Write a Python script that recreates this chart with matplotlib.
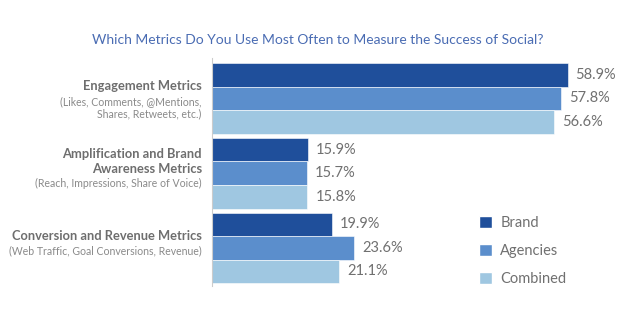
import numpy as np
import matplotlib.pyplot as plt
import matplotlib as mpl
from matplotlib.patches import Patch

mpl.rcParams.update({'font.family': ['Lato', 'DejaVu Sans']})

categories = ['Engagement Metrics', 'Amplification and Brand\nAwareness Metrics', 'Conversion and Revenue Metrics']
subtitles = ['(Likes, Comments, @Mentions,\nShares, Retweets, etc.)',
             '(Reach, Impressions, Share of Voice)',
             '(Web Traffic, Goal Conversions, Revenue)']
series = ['Brand', 'Agencies', 'Combined']
brand = [58.9, 15.9, 19.9]
agencies = [57.8, 15.7, 23.6]
combined = [56.6, 15.8, 21.1]
colors = ['#1f4f9b', '#5b8ecc', '#9fc7e1']

fig = plt.figure(figsize=(6.4, 3.35), dpi=100)
ax = fig.add_axes([0.331, 0.146, 0.619, 0.681])

gap = 0.17
values = [brand, agencies, combined]
for j, vals in enumerate(values):
    for g, v in enumerate(vals):
        y = g * (3 + gap) + j
        ax.barh(y, v, height=1.0, color=colors[j], edgecolor='white', linewidth=0.4)
        ax.annotate('%.1f%%' % v, xy=(v, y), xytext=(8, 0), textcoords='offset pixels',
                    va='center', ha='left', fontsize=10.5, color='#707070')

# category labels: bold block centred a bit above the group, notes underneath
for g in range(3):
    yc = g * (3 + gap) + 1
    main = categories[g].split('\n')
    sub = subtitles[g].split('\n')
    top = -12 - (len(main) - 1) * 7.5
    pos = []
    for i in range(len(main)):
        pos.append(top + i * 15)
    last = pos[-1] + 15
    for i in range(len(sub)):
        pos.append(last + i * 12.5)
    lines = [(t, True) for t in main] + [(t, False) for t in sub]
    for (t, bold), p in zip(lines, pos):
        ax.annotate(t, xy=(0, yc), xytext=(-10, -p), textcoords='offset pixels',
                    ha='right', va='center',
                    fontsize=9.3 if bold else 7.6,
                    fontweight='bold' if bold else 'normal',
                    color='#6e6e6e' if bold else '#8a8a8a')

ax.set_xlim(0, 65.6)
ax.set_ylim(2 * (3 + gap) + 2 + 0.62, -0.72)
ax.set_xticks([])
ax.set_yticks([])
for s in ['top', 'right', 'bottom']:
    ax.spines[s].set_visible(False)
ax.spines['left'].set_color('#cccccc')
ax.spines['left'].set_linewidth(0.8)

handles = [Patch(facecolor=c, edgecolor='white') for c in colors]
leg = ax.legend(handles, series, loc='center left', bbox_to_anchor=(0.64, 0.155),
                frameon=False, handlelength=0.9, handleheight=0.9, handletextpad=0.6,
                labelspacing=0.95, fontsize=10.5)
for t in leg.get_texts():
    t.set_color('#707070')

fig.text(0.497, 0.88, 'Which Metrics Do You Use Most Often to Measure the Success of Social?',
         ha='center', va='center', fontsize=10, color='#4a6cb3')

plt.savefig('out.png', dpi=100)
